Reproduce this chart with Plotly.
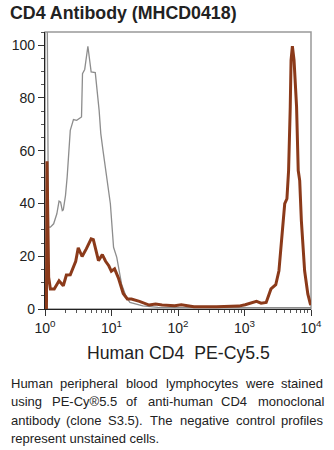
import plotly.graph_objects as go

# ---------------- data ----------------
# intensity values (PE-Cy5.5), y = % of max
ctrl_x = [1.069, 1.127, 1.205, 1.349, 1.507, 1.626, 1.718, 1.820, 1.884, 2.032, 2.153, 2.270,
          2.399, 2.679, 2.999, 3.540, 3.664, 3.954, 4.416, 4.943, 5.702, 6.516, 6.902,
          7.447, 8.590, 9.616, 10.74, 12.00, 14.16, 16.71, 18.92, 29.51, 50.0, 316.2, 3162.0, 10000.0]
ctrl_y = [130, 31, 31, 32.3, 36.1, 40.9, 40.5, 37.3, 37.6, 43, 50, 60.1,
          67.7, 71.8, 71.5, 72.8, 89.2, 90.8, 99.6, 89.9, 89.6, 75.3, 66.5,
          60.1, 48.7, 39.9, 23.4, 19.6, 9.5, 4.4, 2.5, 1.2, 0.6, 0.5, 0.5, 0.5]

cd4_x = [1.052, 1.072, 1.135, 1.205, 1.377, 1.626, 1.884, 2.099, 2.399, 2.679, 2.897, 3.162,
         3.614, 4.178, 4.943, 5.333, 5.834, 6.368, 7.278, 8.147, 9.099, 9.954, 11.12, 12.68,
         15.00, 17.30, 19.95, 26.30, 36.81, 46.03, 57.54, 89.13, 112.2, 138.0, 173.8, 380.2,
         822.2, 1023.0, 1288.0, 1514.0, 1778.0, 2118.0, 2500.0, 2951.0, 3296.0, 3681.0, 4027.0,
         4345.0, 4603.0, 4875.0, 5012.0, 5248.0, 5559.0, 6067.0, 6427.0, 6761.0, 7161.0,
         8017.0, 8954.0, 9772.0, 10000.0]
cd4_y = [0, 56, 12, 7.6, 7.6, 10.7, 8.8, 12.9, 13, 15.8, 18.1, 23.2,
         19.9, 22.8, 26.6, 26.3, 22.1, 18.3, 20.6, 18.1, 16.4, 14.3, 15.2, 11.8,
         5.9, 3.8, 3.8, 2.9, 1.5, 1.9, 1.5, 1.25, 1.6, 1.2, 0.9, 0.9,
         1.1, 1.6, 2.5, 2.9, 2.2, 2.5, 7.6, 9.2, 14.5, 27.2, 39.9,
         41.8, 52.5, 76.6, 94.3, 99.6, 94.3, 76.6, 52.5, 48.7, 33.5,
         14.5, 5.7, 1.9, 1.5]

y_ticks = [0, 20, 40, 60, 80, 100]
x_ticks = [1, 10, 100, 1000, 10000]
x_tick_text = ["10<sup>0</sup>", "10<sup>1</sup>", "10<sup>2</sup>", "10<sup>3</sup>", "10<sup>4</sup>"]

title_text = "CD4 Antibody (MHCD0418)"
x_title = "Human CD4  PE-Cy5.5"
caption_lines = [
    "Human peripheral blood lymphocytes were stained",
    "using PE-Cy®5.5 of anti-human CD4 monoclonal",
    "antibody (clone S3.5). The negative control profiles",
    "represent unstained cells.",
]

# ---------------- layout helpers ----------------
W, H = 334, 450
ML, MR, MT, MB = 42, 15, 32, 141
PW, PH = W - ML - MR, H - MT - MB


def px_x(px):
    return (px - ML) / PW


def px_y(py):
    return (H - MB - py) / PH


ARIAL = {
    ' ': 278, 'a': 556, 'b': 556, 'c': 500, 'd': 556, 'e': 556, 'f': 278, 'g': 556, 'h': 556,
    'i': 222, 'j': 222, 'k': 500, 'l': 222, 'm': 833, 'n': 556, 'o': 556, 'p': 556, 'q': 556,
    'r': 333, 's': 500, 't': 278, 'u': 556, 'v': 500, 'w': 722, 'x': 500, 'y': 500, 'z': 500,
    'A': 667, 'B': 667, 'C': 722, 'D': 722, 'E': 667, 'F': 611, 'G': 778, 'H': 722, 'I': 278,
    'J': 500, 'K': 667, 'L': 556, 'M': 833, 'N': 722, 'O': 778, 'P': 667, 'Q': 778, 'R': 722,
    'S': 667, 'T': 611, 'U': 722, 'V': 667, 'W': 944, 'X': 667, 'Y': 667, 'Z': 611,
    '.': 278, ',': 278, '-': 333, '(': 333, ')': 333, '®': 737,
}


def text_w(s, size):
    return sum(ARIAL.get(c, 556) for c in s) * size / 1000.0


FONT = "Liberation Sans, Arial, Helvetica, sans-serif"

fig = go.Figure()
fig.add_trace(go.Scatter(x=ctrl_x, y=ctrl_y, mode="lines",
                         line=dict(color="#8d8d8d", width=1.3), hoverinfo="skip"))
fig.add_trace(go.Scatter(x=cd4_x, y=cd4_y, mode="lines",
                         line=dict(color="#8b3a1a", width=3), hoverinfo="skip"))

minor_x = [m * d for d in (1, 10, 100, 1000) for m in range(2, 10)]

fig.update_layout(
    width=W, height=H, margin=dict(l=ML, r=MR, t=MT, b=MB),
    paper_bgcolor="white", plot_bgcolor="white", showlegend=False,
    font=dict(family=FONT, color="#222"),
    xaxis=dict(type="log", range=[0, 4], tickmode="array", tickvals=x_ticks, ticktext=x_tick_text,
               ticks="outside", ticklen=6, tickcolor="#333", showgrid=False, zeroline=False,
               showline=True, linecolor="#222", linewidth=1.2,
               tickfont=dict(size=14, color="#222", family=FONT),
               minor=dict(tickmode="array", tickvals=minor_x, ticks="outside", ticklen=3,
                          tickcolor="#555", showgrid=False)),
    yaxis=dict(range=[0, 105], tickmode="array", tickvals=y_ticks,
               ticks="outside", ticklen=6, tickcolor="#333", showgrid=False, zeroline=False,
               showline=True, linecolor="#222", linewidth=1.2,
               tickfont=dict(size=14, color="#222", family=FONT),
               minor=dict(dtick=5, ticks="outside", ticklen=3, tickcolor="#555", showgrid=False)),
)

# frame (top/right)
fig.add_shape(type="rect", xref="x domain", yref="y domain", x0=0, x1=1, y0=0, y1=1,
              line=dict(color="#999", width=1.5), layer="below")

ann = []
ann.append(dict(text="<b>" + title_text + "</b>", x=px_x(3), y=px_y(13), xref="paper", yref="paper",
                xanchor="left", yanchor="middle", showarrow=False,
                font=dict(size=17.8, family=FONT, color="#222")))
ann.append(dict(text=x_title, x=px_x(180.5), y=px_y(353), xref="paper", yref="paper",
                xanchor="center", yanchor="middle", showarrow=False,
                font=dict(size=17.7, family=FONT, color="#222")))

CAP_SIZE = 13
left, right = 4, 328
line_ys = [383, 401.5, 420, 438]
for i, line in enumerate(caption_lines):
    if i == len(caption_lines) - 1:
        ann.append(dict(text=line, x=px_x(left), y=px_y(line_ys[i]), xref="paper", yref="paper",
                        xanchor="left", yanchor="middle", showarrow=False,
                        font=dict(size=CAP_SIZE, family=FONT, color="#222")))
        continue
    words = line.split(" ")
    widths = [text_w(w, CAP_SIZE) for w in words]
    gap = (right - left - sum(widths)) / (len(words) - 1)
    xpos = left
    for w, wd in zip(words, widths):
        ann.append(dict(text=w, x=px_x(xpos), y=px_y(line_ys[i]), xref="paper", yref="paper",
                        xanchor="left", yanchor="middle", showarrow=False,
                        font=dict(size=CAP_SIZE, family=FONT, color="#222")))
        xpos += wd + gap

fig.update_layout(annotations=ann)
fig.write_html("out.html")
